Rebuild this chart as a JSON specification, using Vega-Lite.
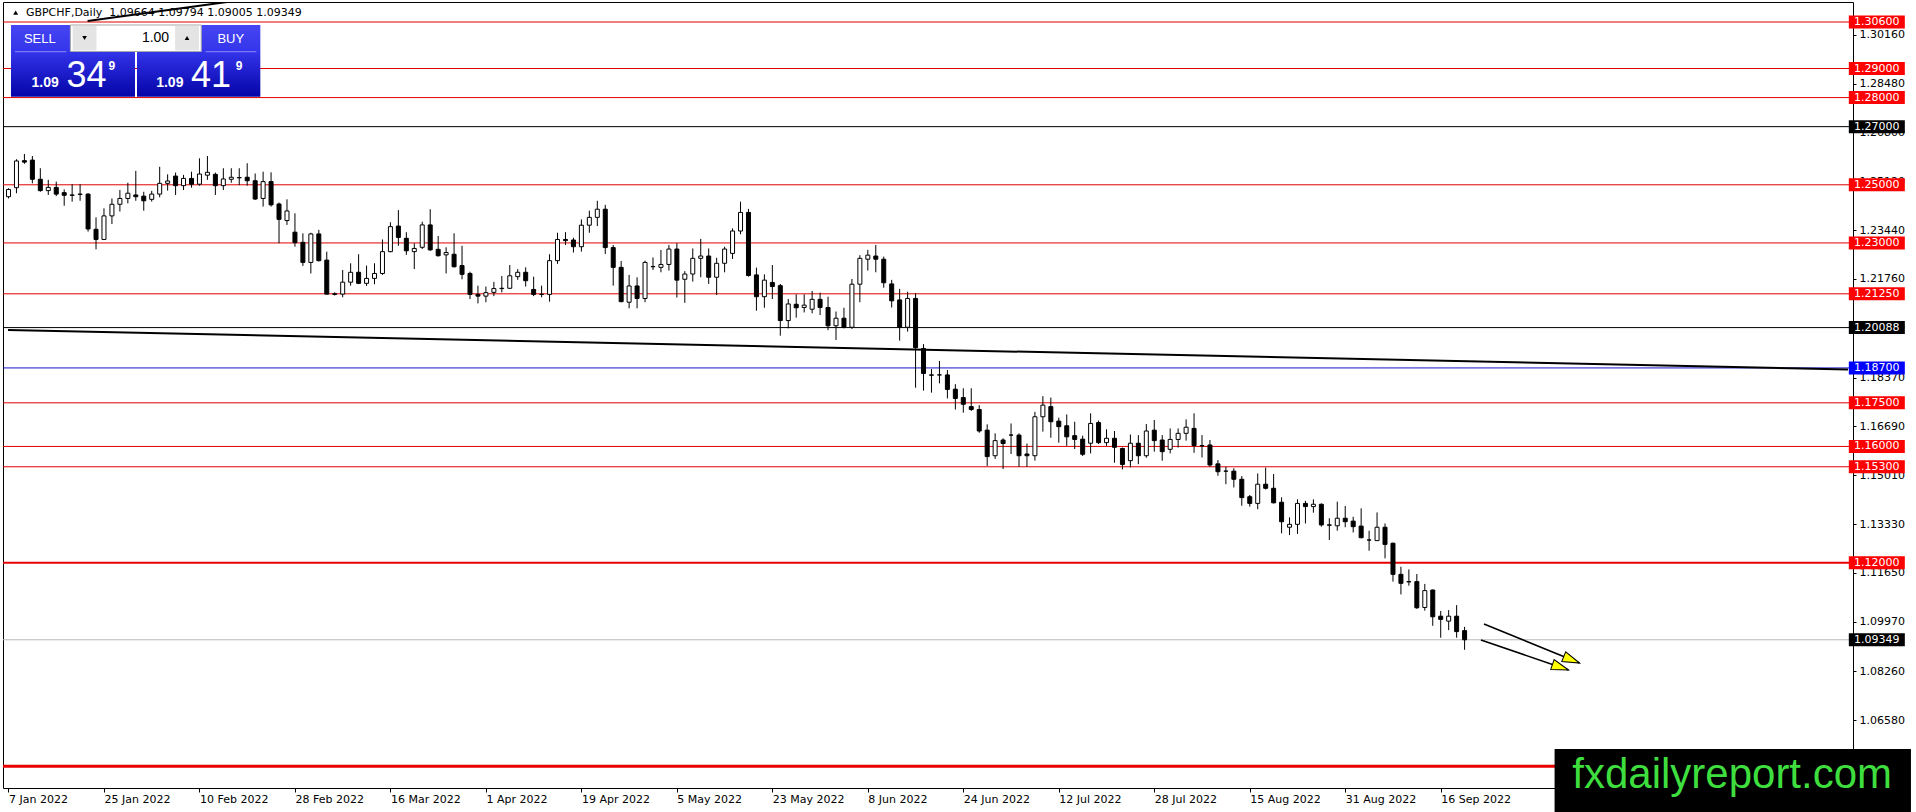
{
  "$schema": "https://vega.github.io/schema/vega-lite/v6.json",
  "width": 1850,
  "height": 786,
  "autosize": {"type": "none"},
  "padding": {"left": 3, "top": 2, "right": 63, "bottom": 24},
  "background": "white",
  "config": {"view": {"stroke": "black", "strokeWidth": 1}},
  "data": {"values": [{}]},
  "datasets": {
    "candles": [
      {"bar":0,"date":"2022-01-07","open":1.2459,"high":1.2488,"low":1.2453,"close":1.2484},
      {"bar":1,"date":"2022-01-10","open":1.2490,"high":1.2588,"low":1.2471,"close":1.2582},
      {"bar":2,"date":"2022-01-11","open":1.2583,"high":1.2606,"low":1.2572,"close":1.2578},
      {"bar":3,"date":"2022-01-12","open":1.2585,"high":1.2599,"low":1.2505,"close":1.2519},
      {"bar":4,"date":"2022-01-13","open":1.2519,"high":1.2557,"low":1.2476,"close":1.2480},
      {"bar":5,"date":"2022-01-14","open":1.2480,"high":1.2517,"low":1.2465,"close":1.2491},
      {"bar":6,"date":"2022-01-17","open":1.2491,"high":1.2511,"low":1.2461,"close":1.2468},
      {"bar":7,"date":"2022-01-18","open":1.2473,"high":1.2484,"low":1.2428,"close":1.2464},
      {"bar":8,"date":"2022-01-19","open":1.2465,"high":1.2502,"low":1.2442,"close":1.2464},
      {"bar":9,"date":"2022-01-20","open":1.2468,"high":1.2502,"low":1.2445,"close":1.2467},
      {"bar":10,"date":"2022-01-21","open":1.2468,"high":1.2471,"low":1.2339,"close":1.2348},
      {"bar":11,"date":"2022-01-24","open":1.2347,"high":1.2388,"low":1.2278,"close":1.2312},
      {"bar":12,"date":"2022-01-25","open":1.2312,"high":1.2419,"low":1.2310,"close":1.2393},
      {"bar":13,"date":"2022-01-26","open":1.2393,"high":1.2453,"low":1.2365,"close":1.2433},
      {"bar":14,"date":"2022-01-27","open":1.2433,"high":1.2482,"low":1.2408,"close":1.2453},
      {"bar":15,"date":"2022-01-28","open":1.2453,"high":1.2507,"low":1.2436,"close":1.2471},
      {"bar":16,"date":"2022-01-31","open":1.2465,"high":1.2548,"low":1.2445,"close":1.2459},
      {"bar":17,"date":"2022-02-01","open":1.2461,"high":1.2476,"low":1.2411,"close":1.2445},
      {"bar":18,"date":"2022-02-02","open":1.2450,"high":1.2479,"low":1.2442,"close":1.2468},
      {"bar":19,"date":"2022-02-03","open":1.2468,"high":1.2562,"low":1.2457,"close":1.2505},
      {"bar":20,"date":"2022-02-04","open":1.2505,"high":1.2536,"low":1.2480,"close":1.2513},
      {"bar":21,"date":"2022-02-07","open":1.2530,"high":1.2542,"low":1.2465,"close":1.2497},
      {"bar":22,"date":"2022-02-08","open":1.2497,"high":1.2534,"low":1.2482,"close":1.2522},
      {"bar":23,"date":"2022-02-09","open":1.2522,"high":1.2545,"low":1.2490,"close":1.2502},
      {"bar":24,"date":"2022-02-10","open":1.2502,"high":1.2591,"low":1.2497,"close":1.2537},
      {"bar":25,"date":"2022-02-11","open":1.2533,"high":1.2599,"low":1.2517,"close":1.2543},
      {"bar":26,"date":"2022-02-14","open":1.2536,"high":1.2542,"low":1.2465,"close":1.2497},
      {"bar":27,"date":"2022-02-15","open":1.2497,"high":1.2557,"low":1.2482,"close":1.2520},
      {"bar":28,"date":"2022-02-16","open":1.2519,"high":1.2557,"low":1.2507,"close":1.2526},
      {"bar":29,"date":"2022-02-17","open":1.2525,"high":1.2557,"low":1.2499,"close":1.2524},
      {"bar":30,"date":"2022-02-18","open":1.2526,"high":1.2574,"low":1.2497,"close":1.2514},
      {"bar":31,"date":"2022-02-21","open":1.2514,"high":1.2539,"low":1.2448,"close":1.2451},
      {"bar":32,"date":"2022-02-22","open":1.2453,"high":1.2545,"low":1.2425,"close":1.2511},
      {"bar":33,"date":"2022-02-23","open":1.2511,"high":1.2543,"low":1.2425,"close":1.2431},
      {"bar":34,"date":"2022-02-24","open":1.2434,"high":1.2439,"low":1.2299,"close":1.2381},
      {"bar":35,"date":"2022-02-25","open":1.2377,"high":1.2450,"low":1.2362,"close":1.2410},
      {"bar":36,"date":"2022-02-28","open":1.2337,"high":1.2402,"low":1.2287,"close":1.2301},
      {"bar":37,"date":"2022-03-01","open":1.2302,"high":1.2333,"low":1.2221,"close":1.2233},
      {"bar":38,"date":"2022-03-02","open":1.2233,"high":1.2335,"low":1.2195,"close":1.2331},
      {"bar":39,"date":"2022-03-03","open":1.2331,"high":1.2345,"low":1.2236,"close":1.2239},
      {"bar":40,"date":"2022-03-04","open":1.2241,"high":1.2270,"low":1.2122,"close":1.2124},
      {"bar":41,"date":"2022-03-07","open":1.2125,"high":1.2130,"low":1.2119,"close":1.2123},
      {"bar":42,"date":"2022-03-08","open":1.2124,"high":1.2207,"low":1.2113,"close":1.2165},
      {"bar":43,"date":"2022-03-09","open":1.2165,"high":1.2230,"low":1.2153,"close":1.2199},
      {"bar":44,"date":"2022-03-10","open":1.2199,"high":1.2261,"low":1.2158,"close":1.2161},
      {"bar":45,"date":"2022-03-11","open":1.2161,"high":1.2222,"low":1.2152,"close":1.2178},
      {"bar":46,"date":"2022-03-14","open":1.2178,"high":1.2230,"low":1.2158,"close":1.2195},
      {"bar":47,"date":"2022-03-15","open":1.2195,"high":1.2312,"low":1.2190,"close":1.2270},
      {"bar":48,"date":"2022-03-16","open":1.2270,"high":1.2371,"low":1.2268,"close":1.2356},
      {"bar":49,"date":"2022-03-17","open":1.2358,"high":1.2413,"low":1.2290,"close":1.2319},
      {"bar":50,"date":"2022-03-18","open":1.2316,"high":1.2337,"low":1.2259,"close":1.2273},
      {"bar":51,"date":"2022-03-21","open":1.2270,"high":1.2299,"low":1.2210,"close":1.2281},
      {"bar":52,"date":"2022-03-22","open":1.2285,"high":1.2373,"low":1.2279,"close":1.2362},
      {"bar":53,"date":"2022-03-23","open":1.2362,"high":1.2416,"low":1.2273,"close":1.2276},
      {"bar":54,"date":"2022-03-24","open":1.2278,"high":1.2324,"low":1.2253,"close":1.2256},
      {"bar":55,"date":"2022-03-25","open":1.2259,"high":1.2285,"low":1.2195,"close":1.2267},
      {"bar":56,"date":"2022-03-28","open":1.2261,"high":1.2333,"low":1.2216,"close":1.2218},
      {"bar":57,"date":"2022-03-29","open":1.2222,"high":1.2290,"low":1.2175,"close":1.2192},
      {"bar":58,"date":"2022-03-30","open":1.2195,"high":1.2201,"low":1.2107,"close":1.2123},
      {"bar":59,"date":"2022-03-31","open":1.2123,"high":1.2153,"low":1.2092,"close":1.2117},
      {"bar":60,"date":"2022-04-01","open":1.2117,"high":1.2150,"low":1.2096,"close":1.2129},
      {"bar":61,"date":"2022-04-04","open":1.2130,"high":1.2166,"low":1.2117,"close":1.2143},
      {"bar":62,"date":"2022-04-05","open":1.2143,"high":1.2186,"low":1.2130,"close":1.2144},
      {"bar":63,"date":"2022-04-06","open":1.2144,"high":1.2224,"low":1.2142,"close":1.2187},
      {"bar":64,"date":"2022-04-07","open":1.2184,"high":1.2210,"low":1.2173,"close":1.2199},
      {"bar":65,"date":"2022-04-08","open":1.2199,"high":1.2216,"low":1.2150,"close":1.2170},
      {"bar":66,"date":"2022-04-11","open":1.2140,"high":1.2184,"low":1.2117,"close":1.2123},
      {"bar":67,"date":"2022-04-12","open":1.2123,"high":1.2153,"low":1.2113,"close":1.2123},
      {"bar":68,"date":"2022-04-13","open":1.2123,"high":1.2261,"low":1.2098,"close":1.2239},
      {"bar":69,"date":"2022-04-14","open":1.2239,"high":1.2335,"low":1.2228,"close":1.2312},
      {"bar":70,"date":"2022-04-15","open":1.2312,"high":1.2337,"low":1.2293,"close":1.2308},
      {"bar":71,"date":"2022-04-18","open":1.2310,"high":1.2318,"low":1.2267,"close":1.2287},
      {"bar":72,"date":"2022-04-19","open":1.2287,"high":1.2381,"low":1.2270,"close":1.2361},
      {"bar":73,"date":"2022-04-20","open":1.2361,"high":1.2411,"low":1.2335,"close":1.2388},
      {"bar":74,"date":"2022-04-21","open":1.2388,"high":1.2445,"low":1.2358,"close":1.2416},
      {"bar":75,"date":"2022-04-22","open":1.2416,"high":1.2431,"low":1.2262,"close":1.2284},
      {"bar":76,"date":"2022-04-25","open":1.2284,"high":1.2293,"low":1.2153,"close":1.2216},
      {"bar":77,"date":"2022-04-26","open":1.2216,"high":1.2238,"low":1.2096,"close":1.2098},
      {"bar":78,"date":"2022-04-27","open":1.2096,"high":1.2190,"low":1.2075,"close":1.2152},
      {"bar":79,"date":"2022-04-28","open":1.2152,"high":1.2182,"low":1.2075,"close":1.2109},
      {"bar":80,"date":"2022-04-29","open":1.2109,"high":1.2239,"low":1.2096,"close":1.2233},
      {"bar":81,"date":"2022-05-02","open":1.2218,"high":1.2250,"low":1.2207,"close":1.2219},
      {"bar":82,"date":"2022-05-03","open":1.2216,"high":1.2276,"low":1.2199,"close":1.2226},
      {"bar":83,"date":"2022-05-04","open":1.2226,"high":1.2293,"low":1.2205,"close":1.2279},
      {"bar":84,"date":"2022-05-05","open":1.2279,"high":1.2299,"low":1.2112,"close":1.2172},
      {"bar":85,"date":"2022-05-06","open":1.2175,"high":1.2203,"low":1.2094,"close":1.2193},
      {"bar":86,"date":"2022-05-09","open":1.2193,"high":1.2281,"low":1.2167,"close":1.2247},
      {"bar":87,"date":"2022-05-10","open":1.2247,"high":1.2314,"low":1.2182,"close":1.2255},
      {"bar":88,"date":"2022-05-11","open":1.2255,"high":1.2281,"low":1.2159,"close":1.2182},
      {"bar":89,"date":"2022-05-12","open":1.2182,"high":1.2249,"low":1.2121,"close":1.2230},
      {"bar":90,"date":"2022-05-13","open":1.2230,"high":1.2287,"low":1.2199,"close":1.2279},
      {"bar":91,"date":"2022-05-16","open":1.2264,"high":1.2350,"low":1.2245,"close":1.2341},
      {"bar":92,"date":"2022-05-17","open":1.2341,"high":1.2442,"low":1.2330,"close":1.2405},
      {"bar":93,"date":"2022-05-18","open":1.2405,"high":1.2417,"low":1.2184,"close":1.2188},
      {"bar":94,"date":"2022-05-19","open":1.2190,"high":1.2215,"low":1.2067,"close":1.2115},
      {"bar":95,"date":"2022-05-20","open":1.2115,"high":1.2192,"low":1.2077,"close":1.2172},
      {"bar":96,"date":"2022-05-23","open":1.2164,"high":1.2224,"low":1.2107,"close":1.2150},
      {"bar":97,"date":"2022-05-24","open":1.2153,"high":1.2159,"low":1.1981,"close":1.2033},
      {"bar":98,"date":"2022-05-25","open":1.2033,"high":1.2107,"low":1.2006,"close":1.2090},
      {"bar":99,"date":"2022-05-26","open":1.2089,"high":1.2123,"low":1.2043,"close":1.2077},
      {"bar":100,"date":"2022-05-27","open":1.2078,"high":1.2123,"low":1.2061,"close":1.2086},
      {"bar":101,"date":"2022-05-30","open":1.2072,"high":1.2135,"low":1.2058,"close":1.2106},
      {"bar":102,"date":"2022-05-31","open":1.2106,"high":1.2129,"low":1.2052,"close":1.2078},
      {"bar":103,"date":"2022-06-01","open":1.2078,"high":1.2115,"low":1.2000,"close":1.2015},
      {"bar":104,"date":"2022-06-02","open":1.2015,"high":1.2064,"low":1.1966,"close":1.2041},
      {"bar":105,"date":"2022-06-03","open":1.2041,"high":1.2077,"low":1.2006,"close":1.2010},
      {"bar":106,"date":"2022-06-06","open":1.2010,"high":1.2176,"low":1.2004,"close":1.2158},
      {"bar":107,"date":"2022-06-07","open":1.2158,"high":1.2258,"low":1.2096,"close":1.2247},
      {"bar":108,"date":"2022-06-08","open":1.2244,"high":1.2276,"low":1.2205,"close":1.2258},
      {"bar":109,"date":"2022-06-09","open":1.2255,"high":1.2293,"low":1.2199,"close":1.2244},
      {"bar":110,"date":"2022-06-10","open":1.2244,"high":1.2253,"low":1.2146,"close":1.2163},
      {"bar":111,"date":"2022-06-13","open":1.2159,"high":1.2173,"low":1.2078,"close":1.2101},
      {"bar":112,"date":"2022-06-14","open":1.2104,"high":1.2142,"low":1.1964,"close":1.2010},
      {"bar":113,"date":"2022-06-15","open":1.2010,"high":1.2132,"low":1.1995,"close":1.2109},
      {"bar":114,"date":"2022-06-16","open":1.2109,"high":1.2127,"low":1.1802,"close":1.1940},
      {"bar":115,"date":"2022-06-17","open":1.1937,"high":1.1952,"low":1.1792,"close":1.1851},
      {"bar":116,"date":"2022-06-20","open":1.1846,"high":1.1866,"low":1.1785,"close":1.1845},
      {"bar":117,"date":"2022-06-21","open":1.1846,"high":1.1894,"low":1.1817,"close":1.1846},
      {"bar":118,"date":"2022-06-22","open":1.1846,"high":1.1863,"low":1.1765,"close":1.1796},
      {"bar":119,"date":"2022-06-23","open":1.1797,"high":1.1814,"low":1.1727,"close":1.1765},
      {"bar":120,"date":"2022-06-24","open":1.1768,"high":1.1800,"low":1.1716,"close":1.1745},
      {"bar":121,"date":"2022-06-27","open":1.1737,"high":1.1800,"low":1.1722,"close":1.1727},
      {"bar":122,"date":"2022-06-28","open":1.1727,"high":1.1742,"low":1.1647,"close":1.1653},
      {"bar":123,"date":"2022-06-29","open":1.1656,"high":1.1676,"low":1.1533,"close":1.1565},
      {"bar":124,"date":"2022-06-30","open":1.1568,"high":1.1645,"low":1.1557,"close":1.1620},
      {"bar":125,"date":"2022-07-01","open":1.1622,"high":1.1628,"low":1.1522,"close":1.1610},
      {"bar":126,"date":"2022-07-04","open":1.1639,"high":1.1679,"low":1.1574,"close":1.1639},
      {"bar":127,"date":"2022-07-05","open":1.1639,"high":1.1645,"low":1.1530,"close":1.1568},
      {"bar":128,"date":"2022-07-06","open":1.1574,"high":1.1610,"low":1.1530,"close":1.1568},
      {"bar":129,"date":"2022-07-07","open":1.1568,"high":1.1719,"low":1.1551,"close":1.1702},
      {"bar":130,"date":"2022-07-08","open":1.1702,"high":1.1773,"low":1.1651,"close":1.1742},
      {"bar":131,"date":"2022-07-11","open":1.1737,"high":1.1768,"low":1.1630,"close":1.1685},
      {"bar":132,"date":"2022-07-12","open":1.1687,"high":1.1699,"low":1.1613,"close":1.1668},
      {"bar":133,"date":"2022-07-13","open":1.1671,"high":1.1710,"low":1.1602,"close":1.1633},
      {"bar":134,"date":"2022-07-14","open":1.1637,"high":1.1685,"low":1.1591,"close":1.1624},
      {"bar":135,"date":"2022-07-15","open":1.1625,"high":1.1637,"low":1.1567,"close":1.1573},
      {"bar":136,"date":"2022-07-18","open":1.1611,"high":1.1714,"low":1.1576,"close":1.1679},
      {"bar":137,"date":"2022-07-19","open":1.1682,"high":1.1689,"low":1.1608,"close":1.1613},
      {"bar":138,"date":"2022-07-20","open":1.1613,"high":1.1659,"low":1.1602,"close":1.1628},
      {"bar":139,"date":"2022-07-21","open":1.1628,"high":1.1653,"low":1.1544,"close":1.1597},
      {"bar":140,"date":"2022-07-22","open":1.1593,"high":1.1596,"low":1.1521,"close":1.1538},
      {"bar":141,"date":"2022-07-25","open":1.1551,"high":1.1641,"low":1.1528,"close":1.1611},
      {"bar":142,"date":"2022-07-26","open":1.1611,"high":1.1639,"low":1.1539,"close":1.1568},
      {"bar":143,"date":"2022-07-27","open":1.1568,"high":1.1677,"low":1.1561,"close":1.1653},
      {"bar":144,"date":"2022-07-28","open":1.1656,"high":1.1691,"low":1.1582,"close":1.1620},
      {"bar":145,"date":"2022-07-29","open":1.1622,"high":1.1639,"low":1.1551,"close":1.1582},
      {"bar":146,"date":"2022-08-01","open":1.1590,"high":1.1662,"low":1.1576,"close":1.1624},
      {"bar":147,"date":"2022-08-02","open":1.1624,"high":1.1662,"low":1.1596,"close":1.1645},
      {"bar":148,"date":"2022-08-03","open":1.1645,"high":1.1693,"low":1.1620,"close":1.1666},
      {"bar":149,"date":"2022-08-04","open":1.1662,"high":1.1714,"low":1.1578,"close":1.1603},
      {"bar":150,"date":"2022-08-05","open":1.1603,"high":1.1639,"low":1.1562,"close":1.1602},
      {"bar":151,"date":"2022-08-08","open":1.1605,"high":1.1622,"low":1.1530,"close":1.1536},
      {"bar":152,"date":"2022-08-09","open":1.1540,"high":1.1553,"low":1.1499,"close":1.1513},
      {"bar":153,"date":"2022-08-10","open":1.1515,"high":1.1530,"low":1.1470,"close":1.1515},
      {"bar":154,"date":"2022-08-11","open":1.1515,"high":1.1525,"low":1.1459,"close":1.1487},
      {"bar":155,"date":"2022-08-12","open":1.1487,"high":1.1498,"low":1.1396,"close":1.1424},
      {"bar":156,"date":"2022-08-15","open":1.1427,"high":1.1433,"low":1.1393,"close":1.1404},
      {"bar":157,"date":"2022-08-16","open":1.1404,"high":1.1507,"low":1.1384,"close":1.1470},
      {"bar":158,"date":"2022-08-17","open":1.1470,"high":1.1527,"low":1.1452,"close":1.1456},
      {"bar":159,"date":"2022-08-18","open":1.1456,"high":1.1505,"low":1.1404,"close":1.1406},
      {"bar":160,"date":"2022-08-19","open":1.1408,"high":1.1425,"low":1.1301,"close":1.1341},
      {"bar":161,"date":"2022-08-22","open":1.1322,"high":1.1356,"low":1.1295,"close":1.1332},
      {"bar":162,"date":"2022-08-23","open":1.1332,"high":1.1418,"low":1.1299,"close":1.1404},
      {"bar":163,"date":"2022-08-24","open":1.1404,"high":1.1413,"low":1.1335,"close":1.1393},
      {"bar":164,"date":"2022-08-25","open":1.1393,"high":1.1418,"low":1.1372,"close":1.1401},
      {"bar":165,"date":"2022-08-26","open":1.1401,"high":1.1404,"low":1.1324,"close":1.1330},
      {"bar":166,"date":"2022-08-29","open":1.1330,"high":1.1353,"low":1.1278,"close":1.1329},
      {"bar":167,"date":"2022-08-30","open":1.1327,"high":1.1410,"low":1.1310,"close":1.1353},
      {"bar":168,"date":"2022-08-31","open":1.1353,"high":1.1395,"low":1.1322,"close":1.1341},
      {"bar":169,"date":"2022-09-01","open":1.1343,"high":1.1358,"low":1.1304,"close":1.1324},
      {"bar":170,"date":"2022-09-02","open":1.1326,"high":1.1387,"low":1.1284,"close":1.1286},
      {"bar":171,"date":"2022-09-05","open":1.1278,"high":1.1310,"low":1.1241,"close":1.1278},
      {"bar":172,"date":"2022-09-06","open":1.1276,"high":1.1373,"low":1.1276,"close":1.1322},
      {"bar":173,"date":"2022-09-07","open":1.1322,"high":1.1335,"low":1.1215,"close":1.1263},
      {"bar":174,"date":"2022-09-08","open":1.1267,"high":1.1269,"low":1.1135,"close":1.1160},
      {"bar":175,"date":"2022-09-09","open":1.1160,"high":1.1186,"low":1.1091,"close":1.1129},
      {"bar":176,"date":"2022-09-12","open":1.1135,"high":1.1177,"low":1.1121,"close":1.1134},
      {"bar":177,"date":"2022-09-13","open":1.1135,"high":1.1161,"low":1.1041,"close":1.1045},
      {"bar":178,"date":"2022-09-14","open":1.1046,"high":1.1127,"low":1.1035,"close":1.1104},
      {"bar":179,"date":"2022-09-15","open":1.1106,"high":1.1108,"low":1.0983,"close":1.1014},
      {"bar":180,"date":"2022-09-16","open":1.1016,"high":1.1034,"low":1.0942,"close":1.1005},
      {"bar":181,"date":"2022-09-19","open":1.0999,"high":1.1037,"low":1.0968,"close":1.1016},
      {"bar":182,"date":"2022-09-20","open":1.1016,"high":1.1054,"low":1.0942,"close":1.0963},
      {"bar":183,"date":"2022-09-21","open":1.09664,"high":1.09794,"low":1.09005,"close":1.09349}
    ],
    "levels": [
      {"price":1.306,"kind":"level"},
      {"price":1.29,"kind":"level"},
      {"price":1.28,"kind":"level"},
      {"price":1.27,"kind":"reference"},
      {"price":1.25,"kind":"level"},
      {"price":1.23,"kind":"level"},
      {"price":1.2125,"kind":"level"},
      {"price":1.20088,"kind":"reference"},
      {"price":1.187,"kind":"trend"},
      {"price":1.175,"kind":"level"},
      {"price":1.16,"kind":"level"},
      {"price":1.153,"kind":"level"},
      {"price":1.12,"kind":"major"},
      {"price":1.09349,"kind":"bid"},
      {"price":1.05,"kind":"target"}
    ],
    "trendlines": [
      {"line":"long","bar":-0.0625,"price":1.20008},
      {"line":"long","bar":231.1875,"price":1.18646},
      {"line":"upper","bar":9.94,"price":1.30634},
      {"line":"upper","bar":37.06,"price":1.31646}
    ],
    "arrows": [
      {"arrow":1,"point":"start","bar":185.44,"price":1.09891},
      {"arrow":1,"point":"tip","bar":197.44,"price":1.0855},
      {"arrow":2,"point":"start","bar":185.06,"price":1.09341},
      {"arrow":2,"point":"tip","bar":196.06,"price":1.08309}
    ]
  },
  "resolve": {"axis": {"x": "independent", "y": "independent"}},
  "layer": [
    {
      "data": {"name": "levels"},
      "mark": {"type": "rule"},
      "encoding": {
        "y": {"field": "price", "type": "quantitative", "scale": {"domain": [1.0425, 1.31288], "nice": false, "zero": false}, "axis": null},
        "stroke": {"field": "kind", "type": "nominal", "scale": {"domain": ["level", "major", "target", "reference", "trend", "bid"], "range": ["#e00000", "#e80000", "#e80000", "#000000", "#1515c8", "#b8b8b8"]}, "legend": null},
        "strokeWidth": {"condition": [{"test": "datum.kind === 'target'", "value": 3}, {"test": "datum.kind === 'major'", "value": 2}], "value": 1}
      }
    },
    {
      "data": {"name": "trendlines"},
      "mark": {"type": "line", "color": "black", "strokeWidth": 2, "clip": true},
      "encoding": {
        "x": {"field": "bar", "type": "quantitative", "scale": {"domain": [-0.0625, 231.1875], "nice": false, "zero": false}, "axis": null},
        "y": {"field": "price", "type": "quantitative", "scale": {"domain": [1.0425, 1.31288], "nice": false, "zero": false}, "axis": null},
        "detail": {"field": "line", "type": "nominal"}
      }
    },
    {
      "data": {"name": "candles"},
      "mark": {"type": "rule", "color": "black", "strokeWidth": 1, "clip": true},
      "encoding": {
        "x": {
          "field": "bar", "type": "quantitative",
          "scale": {"domain": [-0.0625, 231.1875], "nice": false, "zero": false},
          "axis": {
            "orient": "bottom", "title": null, "grid": false, "domain": false,
            "values": [0, 12, 24, 36, 48, 60, 72, 84, 96, 108, 120, 132, 144, 156, 168, 180],
            "labelExpr": "['7 Jan 2022','25 Jan 2022','10 Feb 2022','28 Feb 2022','16 Mar 2022','1 Apr 2022','19 Apr 2022','5 May 2022','23 May 2022','8 Jun 2022','24 Jun 2022','12 Jul 2022','28 Jul 2022','15 Aug 2022','31 Aug 2022','16 Sep 2022'][datum.value / 12]",
            "tickSize": 4, "tickColor": "black", "labelAlign": "left", "labelBaseline": "top",
            "labelFont": "DejaVu Sans", "labelFontSize": 11, "labelColor": "black", "labelPadding": 1,
            "labelFlush": false, "labelOverlap": false, "labelBound": false
          }
        },
        "y": {
          "field": "low", "type": "quantitative",
          "scale": {"domain": [1.0425, 1.31288], "nice": false, "zero": false},
          "axis": {
            "orient": "right", "title": null, "grid": false, "domain": false,
            "values": [1.3016, 1.2848, 1.268, 1.2512, 1.2344, 1.2176, 1.2008, 1.1837, 1.1669, 1.1501, 1.1333, 1.1165, 1.0997, 1.0826, 1.0658],
            "format": ".5f", "tickSize": 3, "tickColor": "black",
            "labelFont": "DejaVu Sans", "labelFontSize": 11, "labelColor": "black", "labelPadding": 3,
            "labelBaseline": "middle", "labelFlush": false, "labelOverlap": false, "labelBound": false
          }
        },
        "y2": {"field": "high"}
      }
    },
    {
      "data": {"name": "candles"},
      "mark": {"type": "bar", "size": 4, "stroke": "black", "strokeWidth": 1, "clip": true},
      "encoding": {
        "x": {"field": "bar", "type": "quantitative", "scale": {"domain": [-0.0625, 231.1875], "nice": false, "zero": false}, "axis": null},
        "y": {"field": "open", "type": "quantitative", "scale": {"domain": [1.0425, 1.31288], "nice": false, "zero": false}, "axis": null},
        "y2": {"field": "close"},
        "fill": {"condition": {"test": "datum.close < datum.open", "value": "black"}, "value": "white"}
      }
    },
    {
      "data": {"name": "arrows"},
      "mark": {"type": "line", "color": "black", "strokeWidth": 1.6},
      "encoding": {
        "x": {"field": "bar", "type": "quantitative", "scale": {"domain": [-0.0625, 231.1875], "nice": false, "zero": false}, "axis": null},
        "y": {"field": "price", "type": "quantitative", "scale": {"domain": [1.0425, 1.31288], "nice": false, "zero": false}, "axis": null},
        "detail": {"field": "arrow", "type": "nominal"}
      }
    },
    {
      "data": {"name": "arrows"},
      "transform": [{"filter": "datum.point === 'tip'"}],
      "mark": {"type": "point", "shape": "M0,0L-2,-0.62L-2,0.62Z", "size": 289, "filled": true, "fill": "#ffff00", "stroke": "black", "strokeWidth": 1, "opacity": 1},
      "encoding": {
        "x": {"field": "bar", "type": "quantitative", "scale": {"domain": [-0.0625, 231.1875], "nice": false, "zero": false}, "axis": null},
        "y": {"field": "price", "type": "quantitative", "scale": {"domain": [1.0425, 1.31288], "nice": false, "zero": false}, "axis": null},
        "angle": {"condition": {"test": "datum.arrow === 1", "value": 22}, "value": 19}
      }
    },
    {
      "data": {"name": "levels"},
      "transform": [{"filter": "datum.kind !== 'target'"}],
      "mark": {"type": "point", "shape": "M-1,-0.232H1V0.232H-1Z", "size": 3136, "filled": true, "opacity": 1, "strokeWidth": 0},
      "encoding": {
        "x": {"datum": 234.81, "type": "quantitative", "scale": {"domain": [-0.0625, 231.1875], "nice": false, "zero": false}, "axis": null},
        "y": {"field": "price", "type": "quantitative", "scale": {"domain": [1.0425, 1.31288], "nice": false, "zero": false}, "axis": null},
        "fill": {"field": "kind", "type": "nominal", "scale": {"domain": ["level", "major", "target", "reference", "trend", "bid"], "range": ["#ff0000", "#ff0000", "#ff0000", "#000000", "#0000ff", "#000000"]}, "legend": null}
      }
    },
    {
      "data": {"name": "levels"},
      "transform": [{"filter": "datum.kind !== 'target'"}],
      "mark": {"type": "text", "align": "left", "baseline": "middle", "font": "DejaVu Sans", "fontSize": 11, "color": "white"},
      "encoding": {
        "x": {"datum": 231.94, "type": "quantitative", "scale": {"domain": [-0.0625, 231.1875], "nice": false, "zero": false}, "axis": null},
        "y": {"field": "price", "type": "quantitative", "scale": {"domain": [1.0425, 1.31288], "nice": false, "zero": false}, "axis": null},
        "text": {"field": "price", "type": "quantitative", "format": ".5f"}
      }
    },
    {
      "mark": {"type": "rect", "fill": {"gradient": "linear", "x1": 0, "y1": 0, "x2": 0, "y2": 1, "stops": [{"offset": 0, "color": "#4646f4"}, {"offset": 0.37, "color": "#3434ea"}, {"offset": 1, "color": "#0404a8"}]}},
      "encoding": {
        "x": {"datum": 0.3125, "type": "quantitative", "scale": {"domain": [-0.0625, 231.1875], "nice": false, "zero": false}, "axis": null},
        "x2": {"datum": 15.9},
        "y": {"datum": 1.30497, "type": "quantitative", "scale": {"domain": [1.0425, 1.31288], "nice": false, "zero": false}, "axis": null},
        "y2": {"datum": 1.2803}
      }
    },
    {
      "mark": {"type": "rect", "fill": {"gradient": "linear", "x1": 0, "y1": 0, "x2": 0, "y2": 1, "stops": [{"offset": 0, "color": "#4646f4"}, {"offset": 0.37, "color": "#3434ea"}, {"offset": 1, "color": "#0404a8"}]}},
      "encoding": {
        "x": {"datum": 16.15, "type": "quantitative", "scale": {"domain": [-0.0625, 231.1875], "nice": false, "zero": false}, "axis": null},
        "x2": {"datum": 31.65},
        "y": {"datum": 1.30497, "type": "quantitative", "scale": {"domain": [1.0425, 1.31288], "nice": false, "zero": false}, "axis": null},
        "y2": {"datum": 1.2803}
      }
    },
    {
      "mark": {"type": "rect", "fill": "white", "stroke": "#a8a8a8", "strokeWidth": 1},
      "encoding": {
        "x": {"datum": 7.775, "type": "quantitative", "scale": {"domain": [-0.0625, 231.1875], "nice": false, "zero": false}, "axis": null},
        "x2": {"datum": 24.225},
        "y": {"datum": 1.30497, "type": "quantitative", "scale": {"domain": [1.0425, 1.31288], "nice": false, "zero": false}, "axis": null},
        "y2": {"datum": 1.29585}
      }
    },
    {
      "mark": {"type": "rect", "fill": "#e4e4e4"},
      "encoding": {
        "x": {"datum": 8.06, "type": "quantitative", "scale": {"domain": [-0.0625, 231.1875], "nice": false, "zero": false}, "axis": null},
        "x2": {"datum": 11.06},
        "y": {"datum": 1.30462, "type": "quantitative", "scale": {"domain": [1.0425, 1.31288], "nice": false, "zero": false}, "axis": null},
        "y2": {"datum": 1.2962}
      }
    },
    {
      "mark": {"type": "rect", "fill": "#e4e4e4"},
      "encoding": {
        "x": {"datum": 20.94, "type": "quantitative", "scale": {"domain": [-0.0625, 231.1875], "nice": false, "zero": false}, "axis": null},
        "x2": {"datum": 23.94},
        "y": {"datum": 1.30462, "type": "quantitative", "scale": {"domain": [1.0425, 1.31288], "nice": false, "zero": false}, "axis": null},
        "y2": {"datum": 1.2962}
      }
    },
    {
      "mark": {"type": "point", "shape": "triangle-down", "size": 22, "filled": true, "color": "black", "opacity": 1},
      "encoding": {
        "x": {"datum": 9.56, "type": "quantitative", "scale": {"domain": [-0.0625, 231.1875], "nice": false, "zero": false}, "axis": null},
        "y": {"datum": 1.3005, "type": "quantitative", "scale": {"domain": [1.0425, 1.31288], "nice": false, "zero": false}, "axis": null}
      }
    },
    {
      "mark": {"type": "point", "shape": "triangle-up", "size": 22, "filled": true, "color": "black", "opacity": 1},
      "encoding": {
        "x": {"datum": 22.44, "type": "quantitative", "scale": {"domain": [-0.0625, 231.1875], "nice": false, "zero": false}, "axis": null},
        "y": {"datum": 1.3005, "type": "quantitative", "scale": {"domain": [1.0425, 1.31288], "nice": false, "zero": false}, "axis": null}
      }
    },
    {
      "mark": {"type": "rule", "color": "#8c8cff", "strokeWidth": 1},
      "encoding": {
        "x": {"datum": 0.81, "type": "quantitative", "scale": {"domain": [-0.0625, 231.1875], "nice": false, "zero": false}, "axis": null},
        "x2": {"datum": 7.275},
        "y": {"datum": 1.29578, "type": "quantitative", "scale": {"domain": [1.0425, 1.31288], "nice": false, "zero": false}, "axis": null}
      }
    },
    {
      "mark": {"type": "rule", "color": "#8c8cff", "strokeWidth": 1},
      "encoding": {
        "x": {"datum": 24.775, "type": "quantitative", "scale": {"domain": [-0.0625, 231.1875], "nice": false, "zero": false}, "axis": null},
        "x2": {"datum": 31.15},
        "y": {"datum": 1.29578, "type": "quantitative", "scale": {"domain": [1.0425, 1.31288], "nice": false, "zero": false}, "axis": null}
      }
    },
    {
      "mark": {"type": "text", "text": "SELL", "align": "center", "baseline": "middle", "font": "Liberation Sans", "fontSize": 13, "color": "white"},
      "encoding": {
        "x": {"datum": 3.94, "type": "quantitative", "scale": {"domain": [-0.0625, 231.1875], "nice": false, "zero": false}, "axis": null},
        "y": {"datum": 1.30032, "type": "quantitative", "scale": {"domain": [1.0425, 1.31288], "nice": false, "zero": false}, "axis": null}
      }
    },
    {
      "mark": {"type": "text", "text": "BUY", "align": "center", "baseline": "middle", "font": "Liberation Sans", "fontSize": 13, "color": "white"},
      "encoding": {
        "x": {"datum": 27.94, "type": "quantitative", "scale": {"domain": [-0.0625, 231.1875], "nice": false, "zero": false}, "axis": null},
        "y": {"datum": 1.30032, "type": "quantitative", "scale": {"domain": [1.0425, 1.31288], "nice": false, "zero": false}, "axis": null}
      }
    },
    {
      "mark": {"type": "text", "text": "1.00", "align": "right", "baseline": "middle", "font": "Liberation Sans", "fontSize": 14, "color": "black"},
      "encoding": {
        "x": {"datum": 20.19, "type": "quantitative", "scale": {"domain": [-0.0625, 231.1875], "nice": false, "zero": false}, "axis": null},
        "y": {"datum": 1.3005, "type": "quantitative", "scale": {"domain": [1.0425, 1.31288], "nice": false, "zero": false}, "axis": null}
      }
    },
    {
      "mark": {"type": "text", "text": "1.09", "align": "left", "baseline": "alphabetic", "font": "Liberation Sans", "fontSize": 14, "fontWeight": "bold", "color": "white"},
      "encoding": {
        "x": {"datum": 2.9, "type": "quantitative", "scale": {"domain": [-0.0625, 231.1875], "nice": false, "zero": false}, "axis": null},
        "y": {"datum": 1.28347, "type": "quantitative", "scale": {"domain": [1.0425, 1.31288], "nice": false, "zero": false}, "axis": null}
      }
    },
    {
      "mark": {"type": "text", "text": "34", "align": "left", "baseline": "alphabetic", "font": "Liberation Sans", "fontSize": 36, "color": "white"},
      "encoding": {
        "x": {"datum": 7.275, "type": "quantitative", "scale": {"domain": [-0.0625, 231.1875], "nice": false, "zero": false}, "axis": null},
        "y": {"datum": 1.28347, "type": "quantitative", "scale": {"domain": [1.0425, 1.31288], "nice": false, "zero": false}, "axis": null}
      }
    },
    {
      "mark": {"type": "text", "text": "9", "align": "left", "baseline": "alphabetic", "font": "Liberation Sans", "fontSize": 12, "fontWeight": "bold", "color": "white"},
      "encoding": {
        "x": {"datum": 12.56, "type": "quantitative", "scale": {"domain": [-0.0625, 231.1875], "nice": false, "zero": false}, "axis": null},
        "y": {"datum": 1.28932, "type": "quantitative", "scale": {"domain": [1.0425, 1.31288], "nice": false, "zero": false}, "axis": null}
      }
    },
    {
      "mark": {"type": "text", "text": "1.09", "align": "left", "baseline": "alphabetic", "font": "Liberation Sans", "fontSize": 14, "fontWeight": "bold", "color": "white"},
      "encoding": {
        "x": {"datum": 18.56, "type": "quantitative", "scale": {"domain": [-0.0625, 231.1875], "nice": false, "zero": false}, "axis": null},
        "y": {"datum": 1.28347, "type": "quantitative", "scale": {"domain": [1.0425, 1.31288], "nice": false, "zero": false}, "axis": null}
      }
    },
    {
      "mark": {"type": "text", "text": "41", "align": "left", "baseline": "alphabetic", "font": "Liberation Sans", "fontSize": 36, "color": "white"},
      "encoding": {
        "x": {"datum": 22.94, "type": "quantitative", "scale": {"domain": [-0.0625, 231.1875], "nice": false, "zero": false}, "axis": null},
        "y": {"datum": 1.28347, "type": "quantitative", "scale": {"domain": [1.0425, 1.31288], "nice": false, "zero": false}, "axis": null}
      }
    },
    {
      "mark": {"type": "text", "text": "9", "align": "left", "baseline": "alphabetic", "font": "Liberation Sans", "fontSize": 12, "fontWeight": "bold", "color": "white"},
      "encoding": {
        "x": {"datum": 28.56, "type": "quantitative", "scale": {"domain": [-0.0625, 231.1875], "nice": false, "zero": false}, "axis": null},
        "y": {"datum": 1.28932, "type": "quantitative", "scale": {"domain": [1.0425, 1.31288], "nice": false, "zero": false}, "axis": null}
      }
    },
    {
      "mark": {"type": "point", "shape": "triangle-up", "size": 25, "filled": true, "color": "black", "opacity": 1},
      "encoding": {
        "x": {"datum": 0.9, "type": "quantitative", "scale": {"domain": [-0.0625, 231.1875], "nice": false, "zero": false}, "axis": null},
        "y": {"datum": 1.3092, "type": "quantitative", "scale": {"domain": [1.0425, 1.31288], "nice": false, "zero": false}, "axis": null}
      }
    },
    {
      "mark": {"type": "text", "text": "GBPCHF,Daily\u00a0 1.09664 1.09794 1.09005 1.09349", "align": "left", "baseline": "middle", "font": "DejaVu Sans", "fontSize": 11, "color": "black"},
      "encoding": {
        "x": {"datum": 2.1875, "type": "quantitative", "scale": {"domain": [-0.0625, 231.1875], "nice": false, "zero": false}, "axis": null},
        "y": {"datum": 1.3092, "type": "quantitative", "scale": {"domain": [1.0425, 1.31288], "nice": false, "zero": false}, "axis": null}
      }
    },
    {
      "mark": {"type": "rect", "fill": "black"},
      "encoding": {
        "x": {"datum": 194.31, "type": "quantitative", "scale": {"domain": [-0.0625, 231.1875], "nice": false, "zero": false}, "axis": null},
        "x2": {"datum": 239.1},
        "y": {"datum": 1.05591, "type": "quantitative", "scale": {"domain": [1.0425, 1.31288], "nice": false, "zero": false}, "axis": null},
        "y2": {"datum": 1.0342}
      }
    },
    {
      "mark": {"type": "text", "text": "fxdailyreport.com", "align": "center", "baseline": "alphabetic", "font": "Liberation Sans", "fontSize": 42, "color": "#3ede3e"},
      "encoding": {
        "x": {"datum": 216.63, "type": "quantitative", "scale": {"domain": [-0.0625, 231.1875], "nice": false, "zero": false}, "axis": null},
        "y": {"datum": 1.0425, "type": "quantitative", "scale": {"domain": [1.0425, 1.31288], "nice": false, "zero": false}, "axis": null}
      }
    }
  ]
}
